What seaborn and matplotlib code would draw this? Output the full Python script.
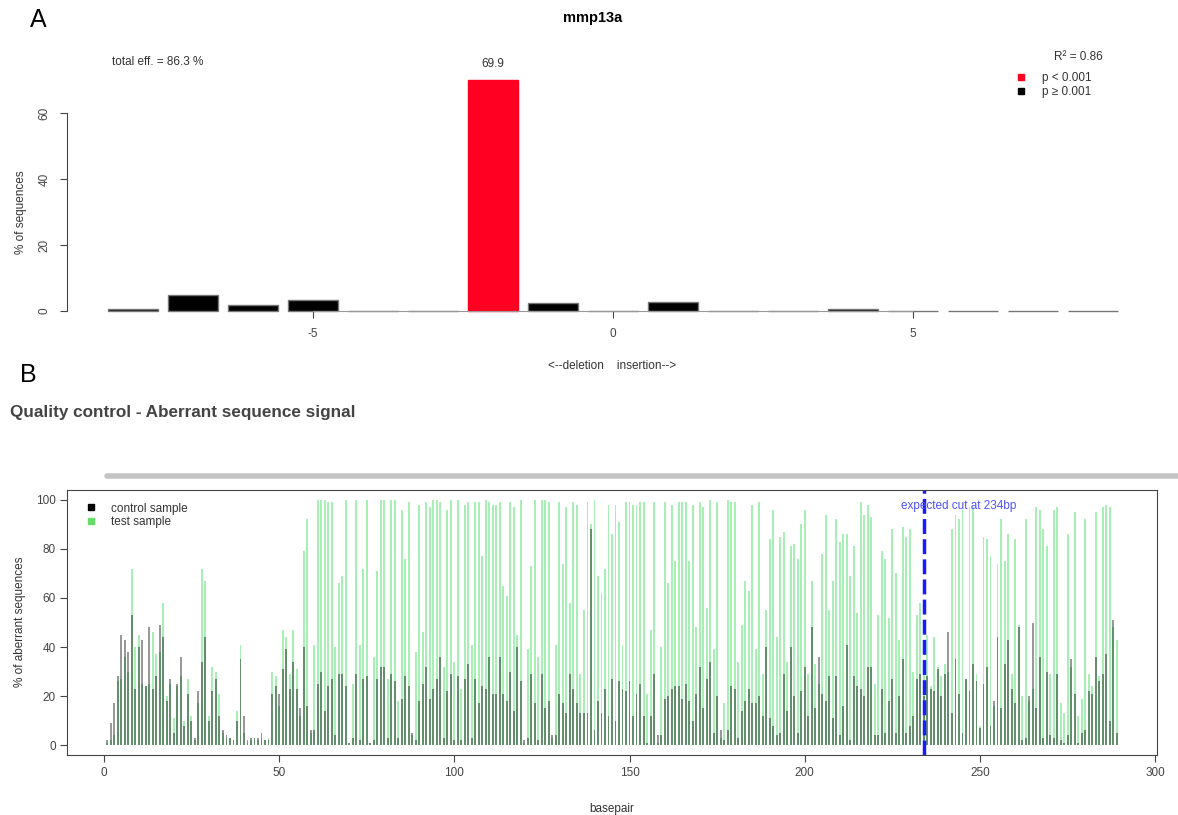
import matplotlib
matplotlib.use("Agg")
import pandas as pd
import matplotlib.pyplot as plt
import seaborn as sns
from matplotlib.lines import Line2D

# panel A: indel spectrum
indel_sizes = [-8, -7, -6, -5, -4, -3, -2, -1, 0, 1, 2, 3, 4, 5, 6, 7, 8]
indel_pct = [0.6, 5.0, 1.7, 3.2, 0, 0, 69.9, 2.4, 0, 2.8, 0, 0, 0.7, 0, 0, 0, 0]
indel_sig = ['p ≥ 0.001'] * 6 + ['p < 0.001'] + ['p ≥ 0.001'] * 10
total_eff = 86.3
r_squared = 0.86

# panel B: aberrant sequence signal per basepair
basepair = list(range(1, 290))
control_pct = [
    2, 9, 17, 28, 45, 43, 38, 53, 23, 40, 43, 24, 48, 23, 28, 49, 44, 18, 27, 5,
    25, 36, 8, 21, 10, 3, 22, 34, 44, 10, 22, 27,
    12, 6, 4, 3, 2, 10, 35, 12, 2, 3, 3, 3, 5, 2, 2, 21, 24, 21,
    31, 39, 23, 34, 23, 15, 40, 16, 6, 6, 25, 30, 14, 24, 27,
    4, 29, 29, 24, 1, 3, 29, 2, 27, 28, 1, 2, 27, 32, 32,
    3, 29, 26, 3, 19, 28, 24, 5, 2, 18, 25, 32, 19, 23, 27, 36, 3, 22,
    29, 2, 28, 2, 27, 33, 3, 27, 17, 24, 23, 36, 21, 21, 36, 21, 18, 30, 14, 40,
    26, 2, 3, 29, 17, 2, 29, 15, 18, 4, 4, 21, 17,
    13, 29, 23, 17, 13, 13, 13, 88, 6, 18, 13, 23, 12, 27, 10, 26, 23, 22, 26,
    12, 21, 25, 12, 1, 12, 29, 4, 4, 19, 20, 23, 24, 24,
    19, 25, 18, 10, 21, 32, 15, 27, 34, 5, 20, 6, 2, 6, 24, 23, 3, 14, 18, 23,
    17, 17, 20, 12, 40, 11, 8, 4, 5, 29, 14, 40, 20,
    5, 22, 32, 12, 48, 15, 36, 21, 18, 28, 11, 28, 4, 16, 41, 2, 28, 24, 23, 20,
    32, 32, 4, 4, 23, 5, 18, 27, 5, 20, 35, 5,
    8, 12, 27, 29, 20, 28, 23, 22, 31, 20, 29, 46, 13, 35, 21, 5, 27, 22, 33, 26,
    7, 25, 32, 8, 18, 44, 15, 33, 43, 23, 17, 48, 2,
    3, 20, 50, 15, 36, 3, 30, 4, 3, 29, 2, 1, 4, 35, 21, 1, 5, 6, 22, 21,
    36, 26, 29, 37, 10, 51, 5,
]
test_pct = [
    1, 2, 4, 26, 27, 36, 30, 72, 40, 45, 25, 24, 25, 46, 37, 38, 58, 20, 25, 11,
    24, 28, 10, 27, 12, 2, 17, 72, 67, 12, 32, 30,
    21, 5, 3, 3, 2, 14, 41, 5, 1, 2, 3, 2, 3, 2, 3, 30, 28, 16,
    47, 44, 29, 47, 31, 12, 79, 92, 5, 41, 100, 100, 100, 99, 99,
    40, 66, 69, 100, 1, 25, 100, 41, 72, 100, 1, 36, 71, 100, 100,
    27, 100, 100, 18, 96, 76, 99, 4, 38, 98, 46, 99, 97, 100, 100, 99, 32, 96,
    100, 34, 100, 23, 98, 99, 41, 99, 99, 77, 100, 99, 98, 98, 99, 65, 61, 99, 97, 45,
    100, 1, 39, 73, 100, 36, 100, 100, 99, 3, 41, 99, 74,
    97, 58, 99, 98, 29, 55, 99, 90, 100, 69, 62, 72, 98, 86, 98, 91, 41, 99, 99,
    98, 98, 99, 99, 21, 47, 99, 1, 40, 99, 66, 98, 75, 99,
    99, 99, 75, 98, 48, 99, 97, 56, 100, 39, 99, 3, 17, 100, 99, 99, 34, 49, 67, 63,
    98, 39, 99, 29, 55, 84, 96, 44, 85, 87, 34, 81, 82,
    76, 90, 96, 29, 67, 33, 25, 78, 94, 55, 67, 92, 83, 86, 86, 69, 81, 54, 99, 94,
    98, 93, 25, 53, 79, 76, 52, 88, 70, 43, 89, 85,
    88, 30, 53, 58, 30, 45, 24, 44, 32, 28, 33, 30, 88, 94, 92, 96, 27, 97, 97, 29,
    8, 85, 84, 77, 16, 74, 92, 75, 86, 29, 84, 49, 20,
    92, 18, 23, 97, 96, 88, 81, 29, 96, 97, 17, 13, 86, 32, 95, 12, 19, 92, 29, 24,
    95, 28, 97, 98, 97, 48, 43,
]
cut_site = 234

sns.set_theme(style="ticks")
plt.rcParams['font.family'] = ['Liberation Sans', 'DejaVu Sans']
plt.rcParams['axes.edgecolor'] = '#444444'
plt.rcParams['xtick.color'] = '#444444'
plt.rcParams['ytick.color'] = '#444444'
plt.rcParams['text.color'] = '#333333'
plt.rcParams['axes.labelcolor'] = '#333333'

W, H = 1178, 815
fig = plt.figure(figsize=(W / 100, H / 100), dpi=100)


def box(l, t, r, b):
    return [l / W, 1 - b / H, (r - l) / W, (b - t) / H]


# ---- A ----
axA = fig.add_axes(box(67, 73.4, 1159, 311))
df_a = pd.DataFrame({'indel': indel_sizes, 'pct': indel_pct, 'sig': indel_sig})
sns.barplot(data=df_a, x='indel', y='pct', hue='sig',
            palette={'p < 0.001': '#ff0022', 'p ≥ 0.001': 'black'},
            dodge=False, width=0.83, errorbar=None, legend=False, saturation=1,
            edgecolor='#777777', linewidth=1.0, ax=axA)
for p in axA.patches:
    p.set_clip_on(False)
    if p.get_facecolor()[0] > 0.5:
        p.set_edgecolor(p.get_facecolor())
axA.set_xlim(-1.1, 17.1)
axA.set_ylim(0, 72)
axA.set_xticks([indel_sizes.index(v) for v in (-5, 0, 5)], ['-5', '0', '5'])
axA.set_yticks([0, 20, 40, 60])
for lbl in axA.get_yticklabels():
    lbl.set_rotation(90)
    lbl.set_va('center')
axA.tick_params(labelsize=8.5, length=5, width=0.8)
axA.tick_params(axis='x', pad=7)
axA.tick_params(axis='y', pad=7)
sns.despine(ax=axA)
axA.spines['left'].set_bounds(0, 60)
axA.spines['bottom'].set_bounds(3, 13)
axA.spines['left'].set_linewidth(0.8)
axA.spines['bottom'].set_linewidth(0.8)
axA.spines['bottom'].set_color('#999999')
axA.set_ylabel('% of sequences', fontsize=8.5)
axA.yaxis.set_label_coords(-0.037, 0.417)
axA.set_xlabel('<--deletion    insertion-->', fontsize=8.5)
axA.xaxis.set_label_coords(0.499, -0.206)
axA.text(-0.35, 75.5, f'total eff. = {total_eff} %', ha='left', va='center', fontsize=8.5)
top = indel_pct.index(max(indel_pct))
axA.text(top, max(indel_pct) + 4.8, f'{max(indel_pct)}', ha='center', va='center', fontsize=8.5)

fig.text(593 / W, 1 - 18 / H, 'mmp13a', ha='center', va='center', fontsize=10.5, fontweight='bold', color='black')
fig.text(1078 / W, 1 - 57 / H, f'R² = {r_squared}', ha='center', va='center', fontsize=8.5)
leg_a = [Line2D([], [], marker='s', ls='', color='#ff0022', markersize=4),
         Line2D([], [], marker='s', ls='', color='black', markersize=4)]
fig.legend(leg_a, ['p < 0.001', 'p ≥ 0.001'], loc='upper left',
           bbox_to_anchor=(1008 / W, 1 - 66 / H), frameon=False, fontsize=8.5,
           handletextpad=1.2, labelspacing=0.15, handlelength=1.2, borderpad=0)

fig.text(38 / W, 1 - 20 / H, 'A', ha='center', va='center', fontsize=18, color='black')
fig.text(28 / W, 1 - 375 / H, 'B', ha='center', va='center', fontsize=18, color='black')

# ---- B ----
fig.text(10 / W, 1 - 412 / H, 'Quality control - Aberrant sequence signal', ha='left', va='center',
         fontsize=12.3, fontweight='bold', color='#444444')
fig.add_artist(Line2D([107 / W, 1], [1 - 476 / H] * 2, color='#c4c4c4', lw=4, transform=fig.transFigure))

axB = fig.add_axes(box(67, 490, 1157, 755))
df_b = pd.DataFrame({'bp': basepair, 'control': control_pct, 'test': test_pct})
sns.barplot(data=df_b, x='bp', y='test', native_scale=True, width=0.55, color='#3ddc5a',
            alpha=0.45, linewidth=0, errorbar=None, saturation=1, ax=axB)
sns.barplot(data=df_b, x='bp', y='control', native_scale=True, width=0.55, color='black',
            alpha=0.4, linewidth=0, errorbar=None, saturation=1, ax=axB)
axB.axvline(cut_site, color='#1a1aff', lw=2.5, ls=(0, (4.3, 1.5)))
axB.text(cut_site + 10, 97.5, f'expected cut at {cut_site}bp', ha='center', va='center',
         fontsize=8.5, color='#5050ff')
axB.set_xlim(-10.5, 300.5)
axB.set_ylim(-4, 104)
axB.set_xticks(range(0, 301, 50))
axB.set_yticks(range(0, 101, 20))
axB.tick_params(labelsize=8.5, length=5, width=0.8)
axB.tick_params(axis='x', pad=4)
axB.tick_params(axis='y', pad=3)
for s in axB.spines.values():
    s.set_linewidth(0.8)
axB.set_ylabel('% of aberrant sequences', fontsize=8.5)
axB.yaxis.set_label_coords(-0.038, 0.502)
axB.set_xlabel('basepair', fontsize=8.5)
axB.xaxis.set_label_coords(0.5, -0.181)
leg_b = [Line2D([], [], marker='s', ls='', color='black', markersize=4),
         Line2D([], [], marker='s', ls='', color='#66dd66', markersize=4)]
axB.legend(leg_b, ['control sample', 'test sample'], loc='upper left',
           bbox_to_anchor=(0.01, 0.975), frameon=False, fontsize=8.5,
           handletextpad=1.1, labelspacing=0.1, handlelength=1.2, borderpad=0)

fig.savefig('out.png', dpi=100)
